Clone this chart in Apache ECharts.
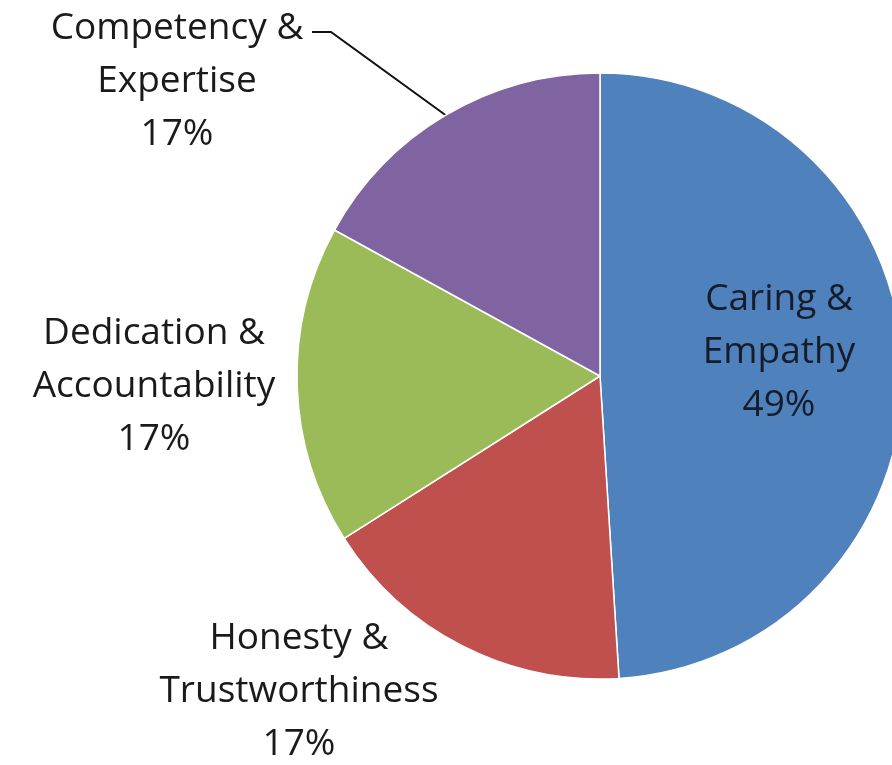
<!DOCTYPE html>
<html>
<head>
<meta charset="utf-8">
<script src="https://cdn.jsdelivr.net/npm/echarts@6/dist/echarts.min.js"></script>
<style>
  html, body { margin: 0; padding: 0; background: #ffffff; }
  #chart { width: 892px; height: 765px; }
</style>
</head>
<body>
<div id="chart"></div>
<script>
// Survey categories, clockwise from twelve o'clock
const categories = [
  'Caring & Empathy',
  'Honesty & Trustworthiness',
  'Dedication & Accountability',
  'Competency & Expertise'
];
// Share of responses per category (%)
const shares = [49, 17, 17, 17];
// Slice fills
const sliceColors = ['#4F81BD', '#C0504D', '#9BBB59', '#8064A2'];

// Layout: centre of each label block (middle line), in pixels
const labelSpots = [[779, 352], [299, 691], [154, 386], [177, 81]];
// Layout: bend and end of the leader line for the top-left label
const leaderElbow = [[331, 32], [312, 32]];

const chart = echarts.init(document.getElementById('chart'), null, { renderer: 'canvas' });

chart.setOption({
  animation: false,
  backgroundColor: '#ffffff',
  series: [{
    type: 'pie',
    center: [600, 376],
    radius: 303,
    startAngle: 90,
    clockwise: true,
    avoidLabelOverlap: false,
    silent: true,
    itemStyle: { borderColor: '#ffffff', borderWidth: 1.5 },
    label: {
      show: true,
      position: 'outside',
      formatter: p => p.name.replace(' & ', ' &\n') + '\n' + Math.round(p.percent) + '%',
      fontFamily: 'Open Sans',
      fontSize: 37,
      lineHeight: 53,
      color: '#1a1a1a',
      align: 'center'
    },
    labelLine: { show: false },
    labelLayout: params => {
      const spot = labelSpots[params.dataIndex];
      const out = { x: spot[0], y: spot[1], align: 'center', verticalAlign: 'middle' };
      if (params.dataIndex === 3 && params.labelLinePoints) {
        out.labelLinePoints = [params.labelLinePoints[0], leaderElbow[0], leaderElbow[1]];
      }
      return out;
    },
    data: categories.map((name, i) => ({
      name: name,
      value: shares[i],
      itemStyle: { color: sliceColors[i] },
      label: i === 0 ? { position: 'inside', color: '#161c2a' } : {},
      labelLine: i === 3
        ? { show: true, length: 40, length2: 20, lineStyle: { color: '#111111', width: 2 } }
        : { show: false }
    }))
  }]
});
</script>
</body>
</html>
